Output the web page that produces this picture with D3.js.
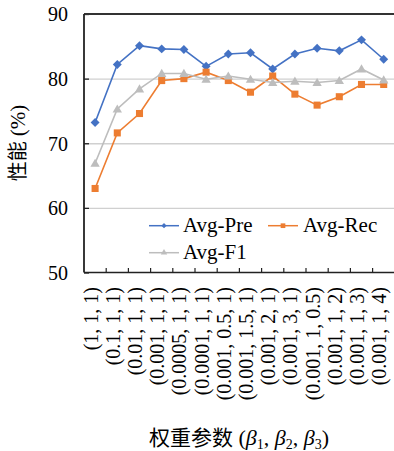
<!DOCTYPE html>
<html><head><meta charset="utf-8">
<script src="https://cdn.jsdelivr.net/npm/d3@7/dist/d3.min.js"></script>
<style>
html,body{margin:0;padding:0;background:#fff;}
svg{display:block;}
text{font-family:"Liberation Serif","Times New Roman",serif;fill:#000;}
</style></head>
<body>
<svg id="chart" width="394" height="451"></svg>
<script>
const categories = ["(1, 1, 1)","(0.1, 1, 1)","(0.01, 1, 1)","(0.001, 1, 1)","(0.0005, 1, 1)","(0.0001, 1, 1)","(0.001, 0.5, 1)","(0.001, 1.5, 1)","(0.001, 2, 1)","(0.001, 3, 1)","(0.001, 1, 0.5)","(0.001, 1, 2)","(0.001, 1, 3)","(0.001, 1, 4)"];
const avgPre = [73.2, 82.2, 85.1, 84.6, 84.5, 81.9, 83.8, 84.0, 81.5, 83.8, 84.7, 84.3, 86.0, 83.0];
const avgRec = [63.0, 71.6, 74.6, 79.7, 80.0, 81.0, 79.7, 77.9, 80.4, 77.6, 75.9, 77.2, 79.1, 79.1];
const avgF1  = [66.9, 75.3, 78.4, 80.8, 80.8, 79.9, 80.4, 79.9, 79.4, 79.6, 79.4, 79.7, 81.5, 79.8];
const yTicks = [50, 60, 70, 80, 90];
const seriesNames = ["Avg-Pre", "Avg-Rec", "Avg-F1"];
const colors = ["#4472C4", "#ED7D31", "#BDBDBD"];

const svg = d3.select("#chart");
const pLeft = 84, pRight = 394.8, pTop = 14, pBottom = 272.5;
const x = d3.scaleBand().domain(categories).range([pLeft, pRight]).padding(0);
const y = d3.scaleLinear().domain([50, 90]).range([pBottom, pTop]);

// gridlines
svg.append("g").attr("transform", `translate(${pLeft},0)`)
  .call(d3.axisLeft(y).tickValues([60,70,80]).tickSize(-(394-pLeft)).tickFormat(""))
  .call(g => g.select(".domain").remove())
  .call(g => g.selectAll("line").attr("stroke", "#D0D0D0").attr("stroke-width", 1.3));

// y tick labels
svg.append("g").attr("transform", `translate(68,0)`)
  .call(d3.axisLeft(y).tickValues(yTicks).tickSize(0).tickPadding(0))
  .call(g => g.select(".domain").remove())
  .call(g => g.selectAll("text").attr("font-size", 20).attr("font-family", "Liberation Serif, serif").attr("fill", "#000").attr("text-anchor", "end").attr("dy", "0.34em"));

// inward ticks on left axis
svg.append("g").attr("transform", `translate(${pLeft},0)`)
  .call(d3.axisRight(y).tickValues(yTicks).tickSize(5).tickFormat(""))
  .call(g => g.select(".domain").remove())
  .call(g => g.selectAll("line").attr("stroke", "#222").attr("stroke-width", 1.3));

// frame lines
svg.append("line").attr("x1", pLeft).attr("x2", 394).attr("y1", y(90)).attr("y2", y(90)).attr("stroke", "#333").attr("stroke-width", 1.8);
svg.append("line").attr("x1", pLeft).attr("x2", pLeft).attr("y1", y(90)).attr("y2", y(50)).attr("stroke", "#222").attr("stroke-width", 1.8);
svg.append("line").attr("x1", pLeft).attr("x2", 394).attr("y1", y(50)).attr("y2", y(50)).attr("stroke", "#222").attr("stroke-width", 1.6);

// x ticks at band boundaries (inward)
const bounds = categories.map(c => x(c)).concat([x(categories[categories.length-1]) + x.bandwidth()]);
svg.append("g").selectAll("line").data(bounds.slice(1)).join("line")
  .attr("x1", d => d).attr("x2", d => d).attr("y1", y(50)).attr("y2", y(50) - 4.5)
  .attr("stroke", "#222").attr("stroke-width", 1.2);

// x labels rotated
svg.append("g").selectAll("text").data(categories).join("text")
  .attr("transform", d => `translate(${x(d) + x.bandwidth()/2},287) rotate(-90)`)
  .attr("text-anchor", "end").attr("dy", "0.12em").attr("font-size", 20)
  .text(d => d);

// series
const all = [avgPre, avgRec, avgF1];
const line = d3.line().x((d, i) => x(categories[i]) + x.bandwidth()/2).y(d => y(d));
all.forEach((vals, si) => {
  svg.append("path").datum(vals).attr("d", line).attr("fill", "none")
    .attr("stroke", colors[si]).attr("stroke-width", 1.6);
});
const diamond = d3.symbol().type(d3.symbolSquare).size(40);
const square = d3.symbol().type(d3.symbolSquare).size(50);
const tri = d3.symbol().type(d3.symbolTriangle).size(38);
function drawMarkers(vals, si, gen, rot, dyOff) {
  svg.append("g").selectAll("path").data(vals).join("path")
    .attr("transform", (d, i) => `translate(${x(categories[i]) + x.bandwidth()/2},${y(d) + dyOff}) rotate(${rot})`)
    .attr("d", gen()).attr("fill", colors[si]);
}
drawMarkers(avgPre, 0, diamond, 45, 0);
drawMarkers(avgRec, 1, square, 0, 0);
drawMarkers(avgF1, 2, tri, 0, 0.8);

// legend
const legend = [
  {name: seriesNames[0], lx: 149, tx: 183, cy: 225.7, si: 0, gen: d3.symbol().type(d3.symbolSquare).size(14), rot: 45},
  {name: seriesNames[1], lx: 268, tx: 303, cy: 225.7, si: 1, gen: d3.symbol().type(d3.symbolSquare).size(22), rot: 0},
  {name: seriesNames[2], lx: 149, tx: 183, cy: 252.7, si: 2, gen: d3.symbol().type(d3.symbolTriangle).size(18), rot: 0}
];
const lg = svg.append("g").selectAll("g").data(legend).join("g");
lg.append("line").attr("x1", d => d.lx).attr("x2", d => d.lx + 30).attr("y1", d => d.cy).attr("y2", d => d.cy)
  .attr("stroke", d => colors[d.si]).attr("stroke-width", 1.5);
lg.append("path").attr("transform", d => `translate(${d.lx + 15},${d.cy}) rotate(${d.rot})`)
  .attr("d", d => d.gen()).attr("fill", d => colors[d.si]);
lg.append("text").attr("x", d => d.tx).attr("y", d => d.cy + 6.5).attr("font-size", 21).text(d => d.name);

// axis titles
svg.append("text").attr("x", 239).attr("y", 445).attr("text-anchor", "middle").attr("font-size", 22)
  .html('<tspan font-family="Noto Sans CJK SC" font-size="21">权重参数</tspan> (<tspan font-style="italic">β</tspan><tspan font-size="14" dy="4">1</tspan><tspan dy="-4">, </tspan><tspan font-style="italic">β</tspan><tspan font-size="14" dy="4">2</tspan><tspan dy="-4">, </tspan><tspan font-style="italic">β</tspan><tspan font-size="14" dy="4">3</tspan><tspan dy="-4">)</tspan>');
svg.append("text").attr("transform", `translate(25,143) rotate(-90)`).attr("text-anchor", "middle").attr("font-size", 21)
  .html('<tspan font-family="Noto Sans CJK SC" font-size="20">性能</tspan> (%)');
</script>
</body></html>
